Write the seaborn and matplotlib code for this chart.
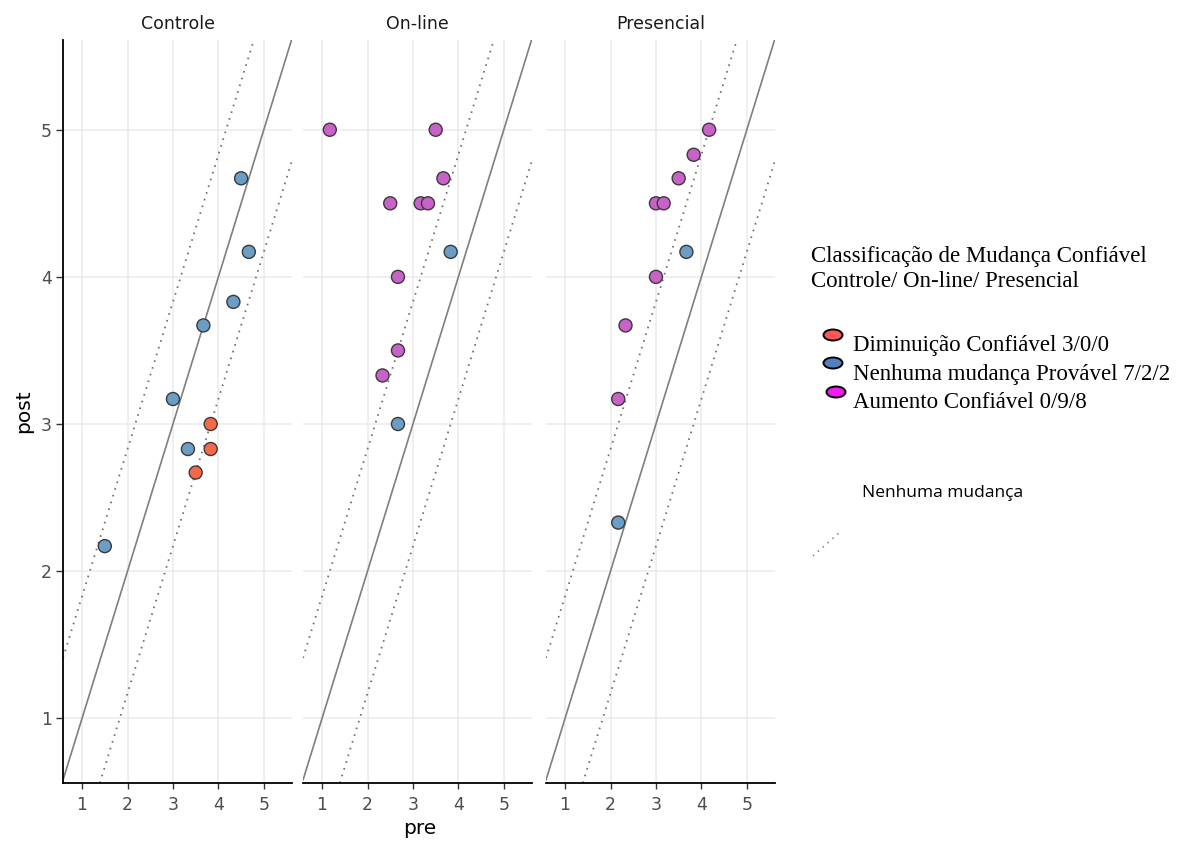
import pandas as pd
import matplotlib
matplotlib.use("Agg")
import matplotlib.pyplot as plt
import seaborn as sns
from matplotlib.patches import Ellipse
from matplotlib.lines import Line2D

# Data (pre / post scores per participant)
groups = ["Controle", "On-line", "Presencial"]
classes = ["Diminuição Confiável", "Nenhuma mudança Provável", "Aumento Confiável"]

controle_pre = [4.50, 4.67, 4.33, 3.67, 3.00, 3.33, 1.50, 3.83, 3.83, 3.50]
controle_post = [4.67, 4.17, 3.83, 3.67, 3.17, 2.83, 2.17, 3.00, 2.83, 2.67]
controle_cls = [1, 1, 1, 1, 1, 1, 1, 0, 0, 0]

online_pre = [1.17, 3.50, 3.67, 2.50, 3.17, 3.33, 2.67, 2.67, 2.33, 3.83, 2.67]
online_post = [5.00, 5.00, 4.67, 4.50, 4.50, 4.50, 4.00, 3.50, 3.33, 4.17, 3.00]
online_cls = [2, 2, 2, 2, 2, 2, 2, 2, 2, 1, 1]

presencial_pre = [4.17, 3.83, 3.50, 3.00, 3.17, 3.00, 2.33, 2.17, 3.67, 2.17]
presencial_post = [5.00, 4.83, 4.67, 4.50, 4.50, 4.00, 3.67, 3.17, 4.17, 2.33]
presencial_cls = [2, 2, 2, 2, 2, 2, 2, 2, 1, 1]

# reliable change cut-off around the identity line
rci_cut = 0.83

legend_labels = ["Diminuição Confiável 3/0/0",
                 "Nenhuma mudança Provável 7/2/2",
                 "Aumento Confiável 0/9/8"]

point_colors = {classes[0]: "#F4694A", classes[1]: "#6A9EC7", classes[2]: "#C862C8"}
legend_colors = ["#FF5757", "#4F81BD", "#F21AF2"]

frames = []
for g, pre, post, cls in [(groups[0], controle_pre, controle_post, controle_cls),
                          (groups[1], online_pre, online_post, online_cls),
                          (groups[2], presencial_pre, presencial_post, presencial_cls)]:
    frames.append(pd.DataFrame({"grupo": g, "pre": pre, "post": post,
                                "classe": [classes[c] for c in cls]}))
df = pd.concat(frames, ignore_index=True)

sns.set_theme(style="whitegrid")
plt.rcParams["font.family"] = ["DejaVu Sans"]

W, H = 1191, 842
fig = plt.figure(figsize=(W / 100, H / 100), dpi=100)

lefts = [63, 303, 546]
pw = 229
top, bottom = 40, 783
dots = (0, (0.9, 3.0))

for i, g in enumerate(groups):
    ax = fig.add_axes([lefts[i] / W, 1 - bottom / H, pw / W, (bottom - top) / H])
    ax.set_xlim(0.58, 5.62)
    ax.set_ylim(0.56, 5.61)
    ax.set_xticks([1, 2, 3, 4, 5])
    ax.set_yticks([1, 2, 3, 4, 5])
    ax.grid(True, color="#EBEBEB", linewidth=1.1)
    ax.set_axisbelow(True)
    ax.set_facecolor("white")

    ax.axline((0, 0), slope=1, color="#7F7F7F", linewidth=1.2, zorder=2)
    ax.axline((0, rci_cut), slope=1, color="#6E6E6E", linewidth=1.3,
              linestyle=dots, zorder=2)
    ax.axline((0, -rci_cut), slope=1, color="#6E6E6E", linewidth=1.3,
              linestyle=dots, zorder=2)

    sns.scatterplot(data=df[df["grupo"] == g], x="pre", y="post", hue="classe",
                    hue_order=classes, palette=point_colors, s=88,
                    edgecolor="#3A3A3A", linewidth=1.0, legend=False,
                    ax=ax, zorder=3)

    ax.set_xlabel("")
    ax.set_ylabel("")
    ax.set_title(g, fontsize=12.5, color="#1A1A1A", pad=8)
    for s in ["top", "right"]:
        ax.spines[s].set_visible(False)
    ax.spines["bottom"].set_color("black")
    ax.spines["bottom"].set_linewidth(1.3)
    ax.tick_params(axis="x", bottom=True, length=4, width=1, color="#333333",
                   labelsize=12.5, labelcolor="#4D4D4D", pad=5)
    if i == 0:
        ax.spines["left"].set_color("black")
        ax.spines["left"].set_linewidth(1.3)
        ax.tick_params(axis="y", left=True, length=5, width=1, color="#333333",
                       labelsize=12.5, labelcolor="#4D4D4D", pad=3)
    else:
        ax.spines["left"].set_visible(False)
        ax.tick_params(axis="y", left=False, labelleft=False)

# overlay in pixel coordinates for axis titles and the hand-made legend
ov = fig.add_axes([0, 0, 1, 1])
ov.set_xlim(0, W)
ov.set_ylim(H, 0)
ov.axis("off")
ov.patch.set_alpha(0)

ov.text(420, 828, "pre", ha="center", va="center", fontsize=14.5, color="black")
ov.text(24, 411, "post", ha="center", va="center", rotation=90,
        fontsize=14.5, color="black")

serif = ["Liberation Serif", "DejaVu Serif"]
ov.text(811, 262, "Classificação de Mudança Confiável", fontsize=16.5,
        family=serif, va="baseline", ha="left", color="black")
ov.text(811, 287, "Controle/ On-line/ Presencial", fontsize=16.5,
        family=serif, va="baseline", ha="left", color="black")

ell_pos = [(833, 335), (833, 363), (836, 392)]
text_base = [351, 380, 408]
for (ex, ey), tb, lab, col in zip(ell_pos, text_base, legend_labels, legend_colors):
    ov.add_patch(Ellipse((ex, ey), 19, 11, facecolor=col, edgecolor="black",
                         linewidth=1.4))
    ov.text(853, tb, lab, fontsize=16.5, family=serif, va="baseline",
            ha="left", color="black")

ov.text(862, 497, "Nenhuma mudança", fontsize=12.5, family=["Open Sans", "DejaVu Sans"],
        va="baseline", ha="left", color="black")
ov.add_line(Line2D([813, 840], [556, 532], color="#888888", linewidth=1.2,
                   linestyle=dots))

fig.savefig("out.png", dpi=100)
